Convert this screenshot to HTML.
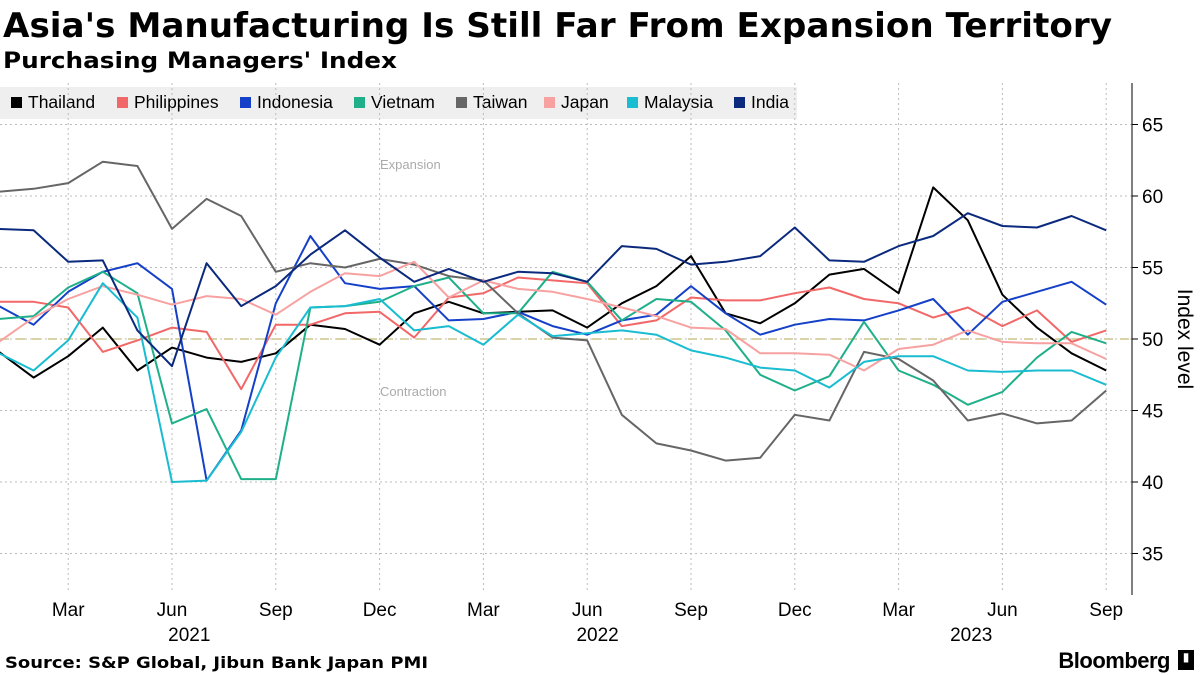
<!DOCTYPE html>
<html><head><meta charset="utf-8"><style>
body{margin:0;width:1200px;height:675px;background:#fff;font-family:"Liberation Sans",sans-serif;overflow:hidden;position:relative}
.bb{position:absolute;right:30px;top:648px;font-size:22px;font-weight:bold;letter-spacing:-0.5px}
.bbi{position:absolute;right:6px;top:650px;width:16px;height:20px;background:#000;color:#fff;font-size:12px;text-align:center}
</style></head><body>
<svg id="c" width="1200" height="675" style="position:absolute;left:0;top:0">
<text x="3" y="37" font-size="34" font-weight="bold" font-family="DejaVu Sans, sans-serif" textLength="1109" lengthAdjust="spacingAndGlyphs">Asia's Manufacturing Is Still Far From Expansion Territory</text>
<text x="3" y="68" font-size="22" font-weight="bold" font-family="DejaVu Sans, sans-serif" textLength="394" lengthAdjust="spacingAndGlyphs">Purchasing Managers' Index</text>
<text x="5" y="668" font-size="16" font-weight="bold" font-family="DejaVu Sans, sans-serif" textLength="423" lengthAdjust="spacingAndGlyphs">Source: S&amp;P Global, Jibun Bank Japan PMI</text>
</svg>
<div class="bb">Bloomberg</div>
<div class="bbi">▮</div>
<script>
const seriesNames=["Thailand","Philippines","Indonesia","Vietnam","Taiwan","Japan","Malaysia","India"];
const seriesColors=["#000000","#f26767","#1540c8","#1fb08a","#666666","#f7a1a1","#19bcd1","#0b2a7d"];
const thailand=[49.1,47.3,48.8,50.8,47.8,49.4,48.7,48.4,49.0,51.0,50.7,49.6,51.8,52.6,51.8,51.9,52.0,50.8,52.5,53.7,55.8,51.8,51.1,52.5,54.5,54.9,53.2,60.6,58.3,53.1,50.8,49.0,47.8];
const philippines=[52.6,52.6,52.2,49.1,49.9,50.8,50.5,46.5,51.0,51.0,51.8,51.9,50.1,52.9,53.2,54.3,54.1,53.9,50.9,51.3,52.9,52.7,52.7,53.2,53.6,52.8,52.5,51.5,52.2,50.9,52.0,49.8,50.6];
const indonesia=[52.3,51.0,53.3,54.7,55.3,53.5,40.1,43.6,52.5,57.2,53.9,53.5,53.7,51.3,51.4,51.9,50.9,50.3,51.3,51.7,53.7,51.8,50.3,51.0,51.4,51.3,52.0,52.8,50.3,52.6,53.3,54.0,52.4];
const vietnam=[51.4,51.6,53.6,54.7,53.2,44.1,45.1,40.2,40.2,52.2,52.3,52.6,53.7,54.3,51.8,51.8,54.7,54.0,51.3,52.8,52.6,50.6,47.5,46.4,47.4,51.2,47.8,46.8,45.4,46.3,48.7,50.5,49.7];
const taiwan=[60.3,60.5,60.9,62.4,62.1,57.7,59.8,58.6,54.7,55.3,55.0,55.6,55.2,54.4,54.1,51.8,50.1,49.9,44.7,42.7,42.2,41.5,41.7,44.7,44.3,49.1,48.6,47.1,44.3,44.8,44.1,44.3,46.4];
const japan=[49.8,51.5,52.8,53.7,53.1,52.4,53.0,52.8,51.7,53.3,54.6,54.4,55.4,52.9,54.1,53.5,53.3,52.8,52.2,51.6,50.8,50.7,49.0,49.0,48.9,47.8,49.3,49.6,50.6,49.8,49.7,49.7,48.6];
const malaysia=[49.0,47.8,49.9,53.9,51.5,40.0,40.1,43.5,48.7,52.2,52.3,52.8,50.6,50.9,49.6,51.7,50.2,50.4,50.6,50.3,49.2,48.7,48.0,47.8,46.6,48.4,48.8,48.8,47.8,47.7,47.8,47.8,46.8];
const india=[57.7,57.6,55.4,55.5,50.6,48.1,55.3,52.3,53.7,55.9,57.6,55.7,54.0,54.9,54.0,54.7,54.6,54.0,56.5,56.3,55.2,55.4,55.8,57.8,55.5,55.4,56.5,57.2,58.8,57.9,57.8,58.6,57.6];
const yTicks=[35,40,45,50,55,60,65];
const xTickLabels=["Mar","Jun","Sep","Dec","Mar","Jun","Sep","Dec","Mar","Jun","Sep"];
const xTickIdx=[2,5,8,11,14,17,20,23,26,29,32];
const yearLabels=["2021","2022","2023"];
const yearIdx=[5.5,17.3,28.1];
const allSeries=[thailand,philippines,indonesia,vietnam,taiwan,japan,malaysia,india];

const svg=document.getElementById('c');const NS='http://www.w3.org/2000/svg';
const xS=i=>-1+i*34.6;
const yS=v=>339-(v-50)*14.3;
function mk(t,a){const e=document.createElementNS(NS,t);for(const k in a)e.setAttribute(k,a[k]);svg.appendChild(e);return e;}
let lb=mk('rect',{x:0,y:87,width:797,height:32,fill:'#efefef'});


const legX=[11,117,240,354,456,544,627,734];
seriesNames.forEach((n,k)=>{
 let r=mk('rect',{x:legX[k],y:97,width:11,height:11,fill:seriesColors[k]});
 
 
 let t=mk('text',{x:legX[k]+17,y:108,'font-size':17.5,fill:'#000'});t.textContent=n;
 
 
});
yTicks.forEach(v=>{
 let g=mk('line',{x1:0,x2:1132,y1:yS(v),y2:yS(v),stroke:'#bbb','stroke-dasharray':'2,3','stroke-width':1});
 
 
 let tk=mk('line',{x1:1132,x2:1138,y1:yS(v),y2:yS(v),stroke:'#000'});
 
 
 let t=mk('text',{x:1142,y:yS(v)+7,'font-size':19,fill:'#000'});t.textContent=v;
 
 
});
xTickIdx.forEach((i,k)=>{
 let g=mk('line',{x1:xS(i),x2:xS(i),y1:83,y2:592,stroke:'#bbb','stroke-dasharray':'2,3'});
 
 
 let t=mk('text',{x:xS(i),y:616,'font-size':19,fill:'#000','text-anchor':'middle'});t.textContent=xTickLabels[k];
 
 
});
yearLabels.forEach((y,k)=>{
 let t=mk('text',{x:xS(yearIdx[k]),y:641,'font-size':19,fill:'#000','text-anchor':'middle'});t.textContent=y;
 
 
});
let ax=mk('line',{x1:1132,x2:1132,y1:83,y2:595,stroke:'#000','stroke-width':1});


let yt=mk('text',{x:1178,y:339,'font-size':21,fill:'#000','text-anchor':'middle',transform:'rotate(90 1178 339)'});yt.textContent='Index level';


let ref=mk('line',{x1:0,x2:1132,y1:yS(50),y2:yS(50),stroke:'#d8d4a8','stroke-width':2,'stroke-dasharray':'9,7'});


let e1=mk('text',{x:380,y:169,'font-size':13,fill:'#aaa'});e1.textContent='Expansion';


let e2=mk('text',{x:380,y:396,'font-size':13,fill:'#aaa'});e2.textContent='Contraction';


allSeries.forEach((s,k)=>{
 const d=s.map((v,i)=>(i?'L':'M')+xS(i).toFixed(1)+','+yS(v).toFixed(1)).join(' ');
 let p=mk('path',{d:d,fill:'none',stroke:seriesColors[k],'stroke-width':2,'stroke-linejoin':'round'});
 
 
});
</script>
</body></html>
